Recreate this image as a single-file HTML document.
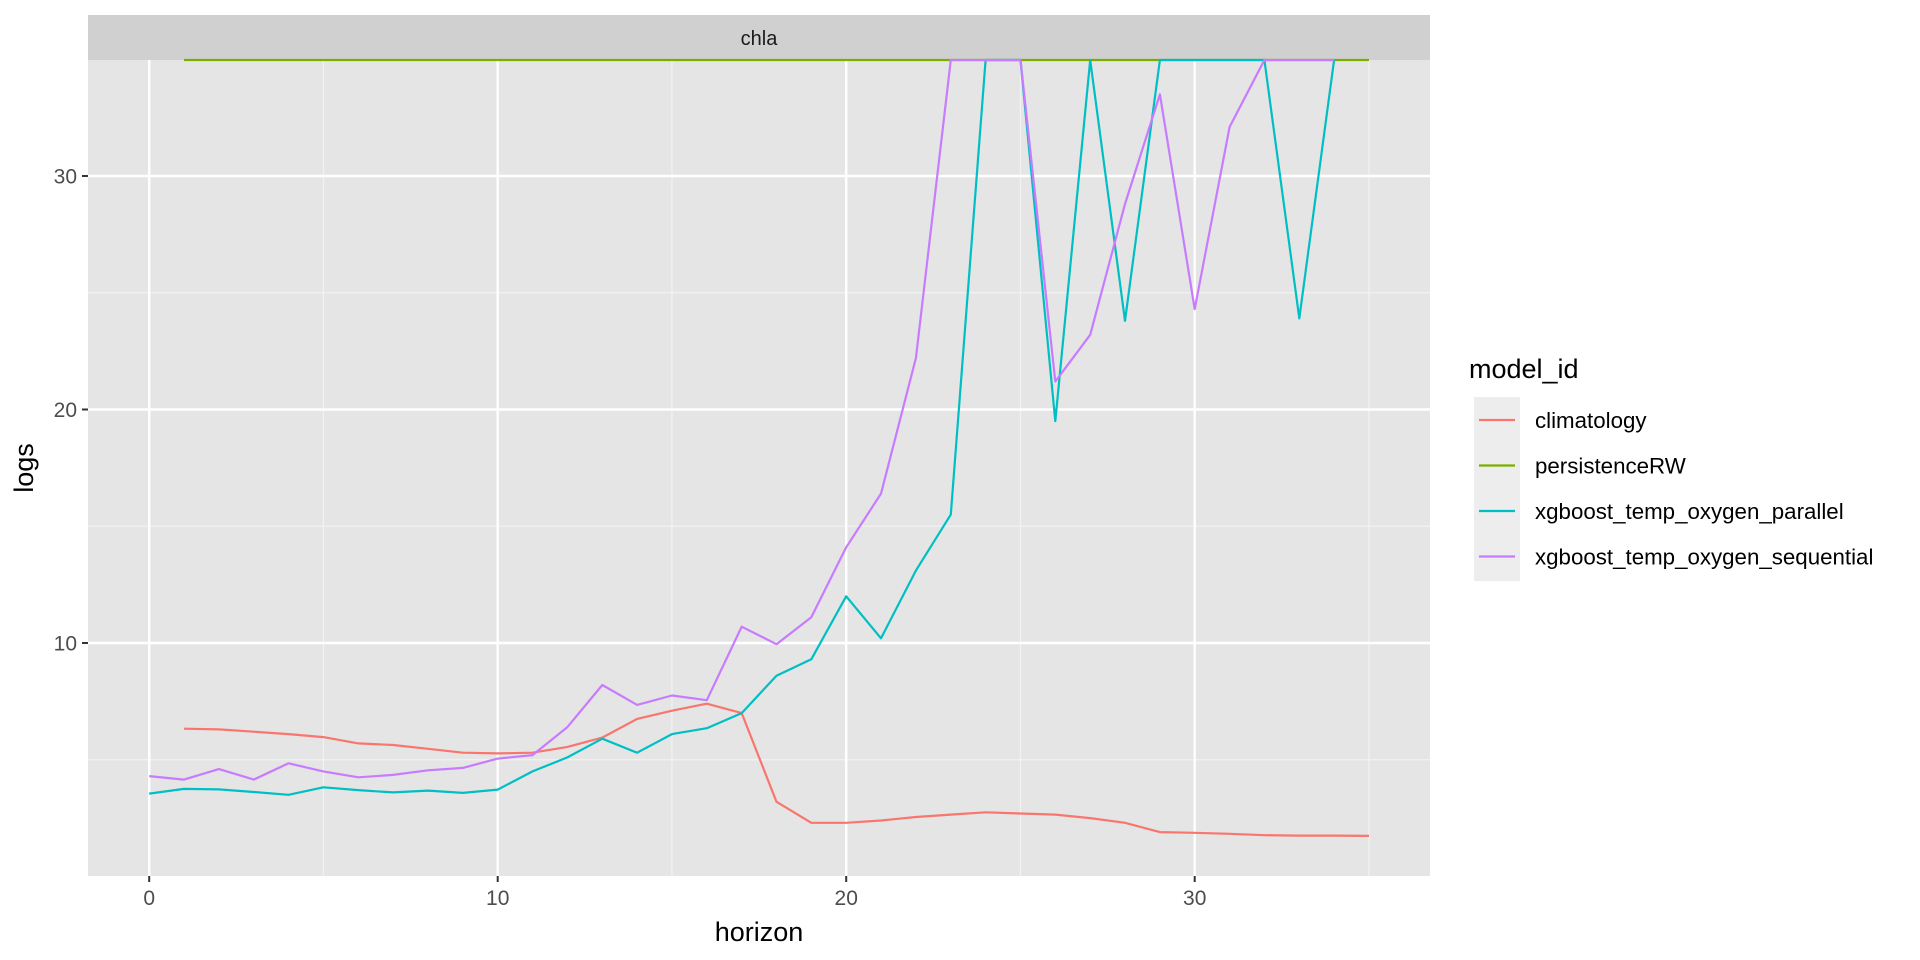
<!DOCTYPE html>
<html><head><meta charset="utf-8"><style>
html,body{margin:0;padding:0;background:#fff;}
svg{display:block;font-family:"Liberation Sans",Arial,sans-serif;}
</style></head><body>
<svg id="chart" width="1920" height="960">
<rect x="88" y="15" width="1342" height="45" fill="#d0d0d0"/>
<text x="759" y="45" font-size="20" text-anchor="middle" fill="#1a1a1a">chla</text>
<rect x="88" y="60" width="1342" height="816" fill="#e5e5e5"/>
<g id="grid"></g>
<g id="series"></g>
<g id="axes"></g>
<text x="759" y="941" font-size="27" text-anchor="middle" fill="#000">horizon</text>
<text transform="translate(33,468) rotate(-90)" font-size="27" text-anchor="middle" fill="#000">logs</text>
<g id="legend">
<text x="1469" y="378" font-size="27" fill="#000">model_id</text>
<rect x="1474" y="397" width="46" height="184" fill="#ededed"/>
</g>
</svg>
<script>
const horizons = [0,1,2,3,4,5,6,7,8,9,10,11,12,13,14,15,16,17,18,19,20,21,22,23,24,25,26,27,28,29,30,31,32,33,34,35];
const seriesNames = ["climatology","persistenceRW","xgboost_temp_oxygen_parallel","xgboost_temp_oxygen_sequential"];
const seriesColors = ["#F8766D","#7CAE00","#00BFC4","#C77CFF"];
const climatology = [null,6.33,6.3,6.2,6.1,5.97,5.7,5.63,5.47,5.3,5.27,5.3,5.55,5.95,6.75,7.1,7.4,7.0,3.2,2.3,2.3,2.4,2.55,2.65,2.75,2.7,2.65,2.5,2.3,1.9,1.87,1.83,1.77,1.75,1.75,1.74];
const persistenceRW = [null,35,35,35,35,35,35,35,35,35,35,35,35,35,35,35,35,35,35,35,35,35,35,35,35,35,35,35,35,35,35,35,35,35,35,35];
const parallel = [3.55,3.75,3.73,3.62,3.5,3.82,3.7,3.6,3.68,3.58,3.72,4.5,5.1,5.9,5.3,6.1,6.35,7.0,8.6,9.3,12.0,10.2,13.1,15.5,35,35,19.5,35,23.8,35,35,35,35,23.9,35,null];
const sequential = [4.3,4.15,4.6,4.15,4.85,4.5,4.25,4.35,4.55,4.65,5.05,5.2,6.4,8.2,7.35,7.75,7.55,10.7,9.95,11.1,14.1,16.4,22.2,35,35,35,21.2,23.2,28.8,33.5,24.3,32.1,35,35,35,null];
const xTicks = [0,10,20,30];
const xMinor = [5,15,25,35];
const yTicks = [10,20,30];
const yMinor = [5,15,25];

const NS="http://www.w3.org/2000/svg";
function X(v){return 149.2+v*34.85;}
function Y(v){return 176+(30-v)*23.35;}
function mk(tag,attrs,parent){const e=document.createElementNS(NS,tag);for(const k in attrs)e.setAttribute(k,attrs[k]);parent.appendChild(e);return e;}
const grid=document.getElementById('grid'),axes=document.getElementById('axes'),ser=document.getElementById('series'),leg=document.getElementById('legend');
xMinor.forEach(v=>{const l=mk('line',{x1:X(v),x2:X(v),y1:60,y2:876,stroke:'#f2f2f2','stroke-width':1.2},grid);

});
yMinor.forEach(v=>{const l=mk('line',{x1:88,x2:1430,y1:Y(v),y2:Y(v),stroke:'#f2f2f2','stroke-width':1.2},grid);

});
xTicks.forEach(v=>{const l=mk('line',{x1:X(v),x2:X(v),y1:60,y2:876,stroke:'#fff','stroke-width':2.4},grid);


const t=mk('line',{x1:X(v),x2:X(v),y1:876,y2:882,stroke:'#333','stroke-width':2},axes);


const tx=mk('text',{x:X(v),y:905,'font-size':21,'text-anchor':'middle',fill:'#4d4d4d'},axes);tx.textContent=v;

});
yTicks.forEach(v=>{const l=mk('line',{x1:88,x2:1430,y1:Y(v),y2:Y(v),stroke:'#fff','stroke-width':2.4},grid);


const t=mk('line',{x1:82,x2:88,y1:Y(v),y2:Y(v),stroke:'#333','stroke-width':2},axes);


const tx=mk('text',{x:77,y:Y(v)+7.5,'font-size':21,'text-anchor':'end',fill:'#4d4d4d'},axes);tx.textContent=v;

});
const allSeries=[climatology,persistenceRW,parallel,sequential];
allSeries.forEach((vals,i)=>{let d='';let pen=false;
vals.forEach((v,j)=>{if(v===null){pen=false;return;}d+=(pen?'L':'M')+X(horizons[j]).toFixed(1)+','+Y(Math.min(v,34.97)).toFixed(1);pen=true;});
const p=mk('path',{d:d,fill:'none',stroke:seriesColors[i],'stroke-width':2.2,'stroke-linejoin':'round'},ser);


const ky=420+i*45.5;
const kl=mk('line',{x1:1479,x2:1515,y1:ky,y2:ky,stroke:seriesColors[i],'stroke-width':2.2},leg);


const lt=mk('text',{x:1535,y:ky+8,'font-size':22.3,fill:'#000'},leg);lt.textContent=seriesNames[i];

});
</script>
</body></html>
